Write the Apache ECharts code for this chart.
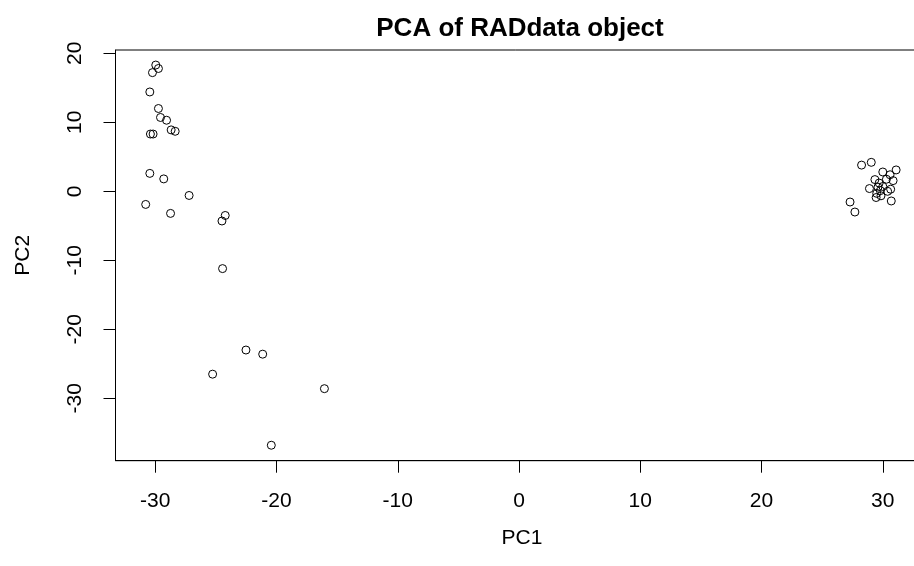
<!DOCTYPE html>
<html>
<head>
<meta charset="utf-8">
<script src="https://cdn.jsdelivr.net/npm/echarts@6/dist/echarts.min.js"></script>
<style>html,body{margin:0;padding:0;background:#fff}#c{width:914px;height:566px}</style>
</head>
<body>
<div id="c"></div>
<script>
// PC1 / PC2 scores
const pc1 = [
  -29.96, -29.74, -30.23, -30.45, -29.74, -29.57, -29.07, -28.69, -28.36, -30.40,
  -30.18, -30.45, -29.30, -27.21, -30.79, -28.74, -24.23, -24.50, -24.45, -22.52,
  -21.14, -25.27, -16.05, -20.43,
  28.25, 29.05, 31.10, 30.00, 30.60, 29.35, 30.30, 30.85, 29.70, 28.90,
  30.00, 30.65, 29.50, 29.80, 29.45, 29.85, 30.70, 27.30, 27.70, 30.40, 29.60
];
const pc2 = [
  18.3, 17.8, 17.2, 14.4, 12.0, 10.7, 10.3, 8.9, 8.7, 8.3,
  8.3, 2.6, 1.8, -0.6, -1.9, -3.2, -3.5, -4.3, -11.2, -23.0,
  -23.6, -26.5, -28.6, -36.8,
  3.8, 4.2, 3.1, 2.8, 2.4, 1.7, 1.75, 1.55, 1.2, 0.4,
  0.7, 0.3, -0.3, 0.1, -0.9, -0.65, -1.4, -1.55, -3.0, 0.0, 0.6
];
const xTicks = [-30, -20, -10, 0, 10, 20, 30];
const yTicks = [-30, -20, -10, 0, 10, 20];
const titleText = 'PCA of RADdata object';
const xName = 'PC1';
const yName = 'PC2';

const points = pc1.map((v, i) => [v, pc2[i]]);
const chart = echarts.init(document.getElementById('c'), null, {renderer: 'canvas'});
const font = 'Liberation Sans, Arial, sans-serif';
chart.setOption({
  animation: false,
  backgroundColor: '#fff',
  title: {
    text: titleText,
    left: 515, top: 11, textAlign: 'center',
    textStyle: {fontFamily: font, fontWeight: 'bold', fontSize: 26, color: '#000'}
  },
  grid: {
    left: 115.5, top: 50, width: 813, height: 410.7,
    outerBoundsMode: 'none', containLabel: false,
    show: true, borderColor: '#000', borderWidth: 1, backgroundColor: 'transparent'
  },
  xAxis: {
    type: 'value', min: -33.28, max: 33.77,
    name: xName, nameLocation: 'middle', nameGap: 67,
    nameTextStyle: {fontFamily: font, fontSize: 21, color: '#000'},
    splitLine: {show: false},
    axisLine: {show: true, onZero: false, lineStyle: {color: '#000', width: 1}},
    axisTick: {show: true, length: 12, customValues: xTicks, lineStyle: {color: '#000'}},
    axisLabel: {customValues: xTicks, margin: 30, fontFamily: font, fontSize: 21, color: '#000'}
  },
  yAxis: {
    type: 'value', min: -39.04, max: 20.48,
    name: yName, nameLocation: 'middle', nameGap: 81.5, nameRotate: 90,
    nameTextStyle: {fontFamily: font, fontSize: 21, color: '#000'},
    splitLine: {show: false},
    axisLine: {show: true, onZero: false, lineStyle: {color: '#000', width: 1}},
    axisTick: {show: true, length: 12, customValues: yTicks, lineStyle: {color: '#000'}},
    axisLabel: {customValues: yTicks, rotate: 90, margin: 30, fontFamily: font, fontSize: 21, color: '#000'}
  },
  series: [{
    type: 'scatter',
    data: points,
    symbol: 'circle',
    symbolSize: 8,
    itemStyle: {color: 'rgba(0,0,0,0)', borderColor: '#000', borderWidth: 1, opacity: 1},
    emphasis: {disabled: true}
  }]
});
</script>
</body>
</html>
